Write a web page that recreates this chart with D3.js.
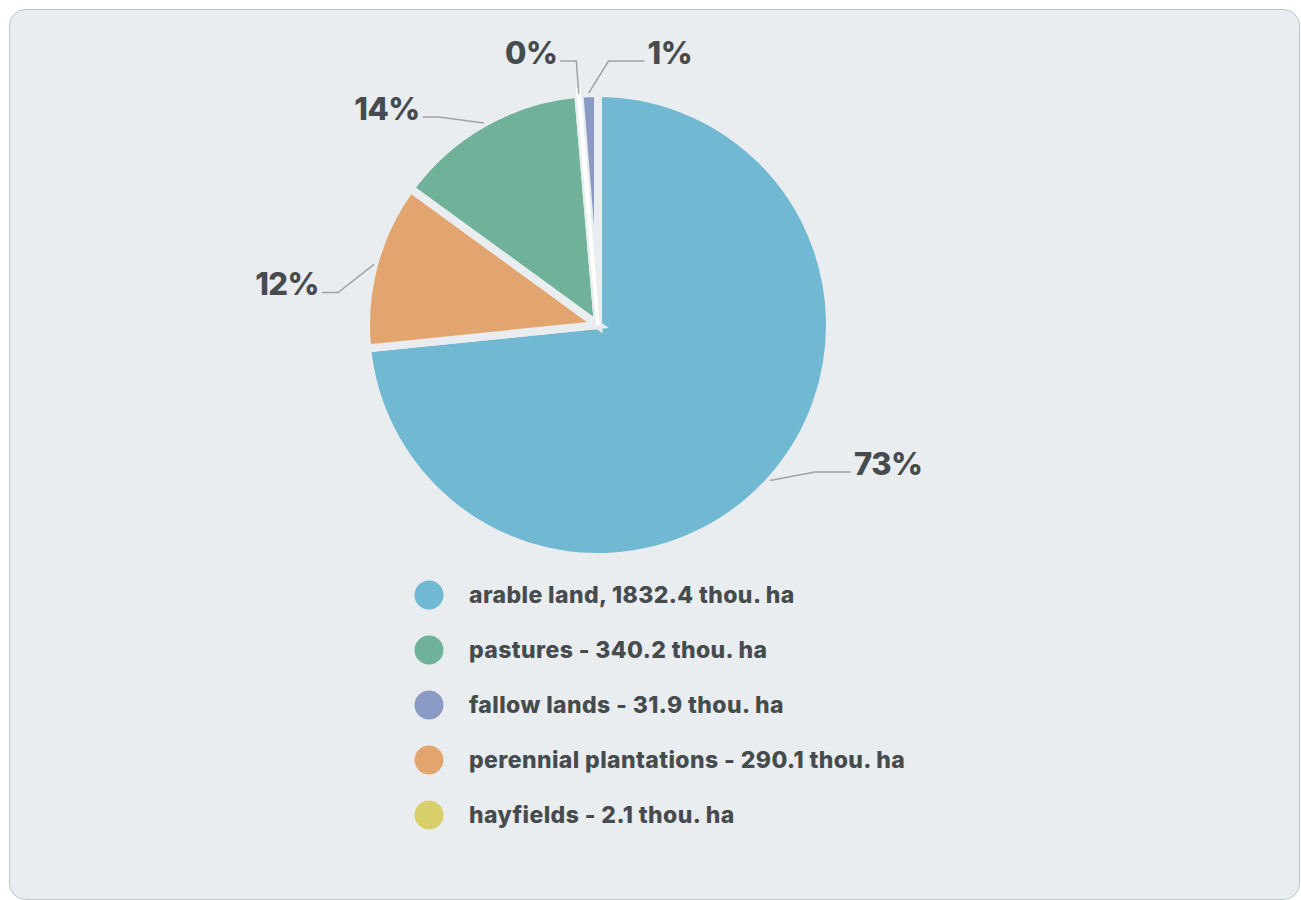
<!DOCTYPE html>
<html>
<head>
<meta charset="utf-8">
<script src="https://cdn.jsdelivr.net/npm/d3@7"></script>
<style>
  body { margin: 0; background: #fff; }
  svg { display: block; }
  text { font-family: Inter, "Open Sans", sans-serif; fill: #464b4e; }
</style>
</head>
<body>
<svg id="chart" width="1301" height="900"></svg>
<script>
// legend order
var categories = ["arable land", "pastures", "fallow lands", "perennial plantations", "hayfields"];
var values = [1832.4, 340.2, 31.9, 290.1, 2.1];
var legendLabels = [
  "arable land, 1832.4 thou. ha",
  "pastures - 340.2 thou. ha",
  "fallow lands - 31.9 thou. ha",
  "perennial plantations - 290.1 thou. ha",
  "hayfields - 2.1 thou. ha"
];
// order the slices go round the pie, clockwise from the top
var pieOrder = ["arable land", "perennial plantations", "pastures", "hayfields", "fallow lands"];
var colors = ["#71b8d2", "#6fb199", "#8b9ac4", "#e3a570", "#d8cf6a"];

var bg = "#e9edf0";
var svg = d3.select("#chart");

// panel
svg.append("rect")
  .attr("x", 9.5).attr("y", 9.5)
  .attr("width", 1290).attr("height", 890)
  .attr("rx", 16)
  .attr("fill", bg)
  .attr("stroke", "#b9c5cd");

var cx = 598, cy = 325, R = 232;
var total = d3.sum(values);
var color = d3.scaleOrdinal().domain(categories).range(colors);

var data = pieOrder.map(function(c) {
  return { name: c, value: values[categories.indexOf(c)] };
});

var pie = d3.pie().sort(null).value(function(d) { return d.value; });
var arc = d3.arc().innerRadius(0).outerRadius(R);
var arcs = pie(data);

var g = svg.append("g").attr("transform", "translate(" + cx + "," + cy + ")");

// slices, with a thick border in the panel colour
g.selectAll("path.slice")
  .data(arcs)
  .enter().append("path")
    .attr("class", "slice")
    .attr("d", arc)
    .attr("fill", function(d) { return color(d.data.name); })
    .attr("stroke", bg)
    .attr("stroke-width", 8)
    .attr("stroke-linejoin", "miter");

// slivers too thin to show under the border get a white edge
g.selectAll("path.sliver")
  .data(arcs.filter(function(d) { return d.endAngle - d.startAngle < 0.01; }))
  .enter().append("path")
    .attr("class", "sliver")
    .attr("d", d3.arc().innerRadius(2).outerRadius(R + 4))
    .attr("fill", "#fff")
    .attr("stroke", "#fff")
    .attr("stroke-width", 3.5);

// data labels: on a circle R+30, nudged toward the horizontal;
// labels close to the top sit just above the pie
var rLabel = R + 30, nudge = 8 * Math.PI / 180;
var placed = { left: [], right: [] };
arcs.forEach(function(d) {
  var a = (d.startAngle + d.endAngle) / 2;
  var sx = Math.sin(a), sy = -Math.cos(a);
  var side = sx >= 0 ? 1 : -1;
  var lx, ly;
  if (Math.abs(sx) < 0.3) {
    ly = (sy < 0 ? -1 : 1) * (R + 32);
    lx = rLabel * sx;
  } else {
    var toward = (a % Math.PI) < Math.PI / 2 ? 1 : -1;  // rotate toward 90 or 270 deg
    var b = a + toward * nudge;
    lx = rLabel * Math.sin(b);
    ly = -rLabel * Math.cos(b);
  }
  var key = side > 0 ? "right" : "left";
  // if it would sit on top of a label already on this side, move it across
  if (placed[key].some(function(y) { return Math.abs(y - ly) < 30; })) {
    side = -side;
    key = side > 0 ? "right" : "left";
    lx = side * Math.abs(lx);
  }
  placed[key].push(ly);

  // longer hook on the right, where there is more room
  var hook = side > 0 ? 36 : 16;
  d.label = { tx: R * sx, ty: R * sy, lx: lx, ly: ly, ex: lx + side * hook, side: side };
});

g.selectAll("polyline.conn")
  .data(arcs)
  .enter().append("polyline")
    .attr("class", "conn")
    .attr("points", function(d) {
      var l = d.label;
      return [[l.tx, l.ty], [l.lx, l.ly], [l.ex, l.ly]].join(" ");
    })
    .attr("fill", "none")
    .attr("stroke", "#9fa3a5")
    .attr("stroke-width", 1.5);

g.selectAll("text.pct")
  .data(arcs)
  .enter().append("text")
    .attr("class", "pct")
    .attr("x", function(d) { return d.label.ex + d.label.side * 3; })
    .attr("y", function(d) { return d.label.ly + 3; })
    .attr("text-anchor", function(d) { return d.label.side > 0 ? "start" : "end"; })
    .style("font-size", "31px")
    .style("font-weight", 800)
    .style("letter-spacing", "-0.5px")
    .text(function(d) { return Math.round(d.value / total * 100) + "%"; });

// legend
var legend = svg.append("g").attr("transform", "translate(429,595)");
var rows = legend.selectAll("g")
  .data(categories)
  .enter().append("g")
    .attr("transform", function(d, i) { return "translate(0," + i * 55 + ")"; });

rows.append("circle")
  .attr("r", 14.5)
  .attr("fill", function(d) { return color(d); });

rows.append("text")
  .attr("x", 40)
  .attr("dy", "0.36em")
  .style("font-size", "23px")
  .style("font-weight", 800)
  .style("letter-spacing", "0.4px")
  .text(function(d, i) { return legendLabels[i]; });
</script>
</body>
</html>
